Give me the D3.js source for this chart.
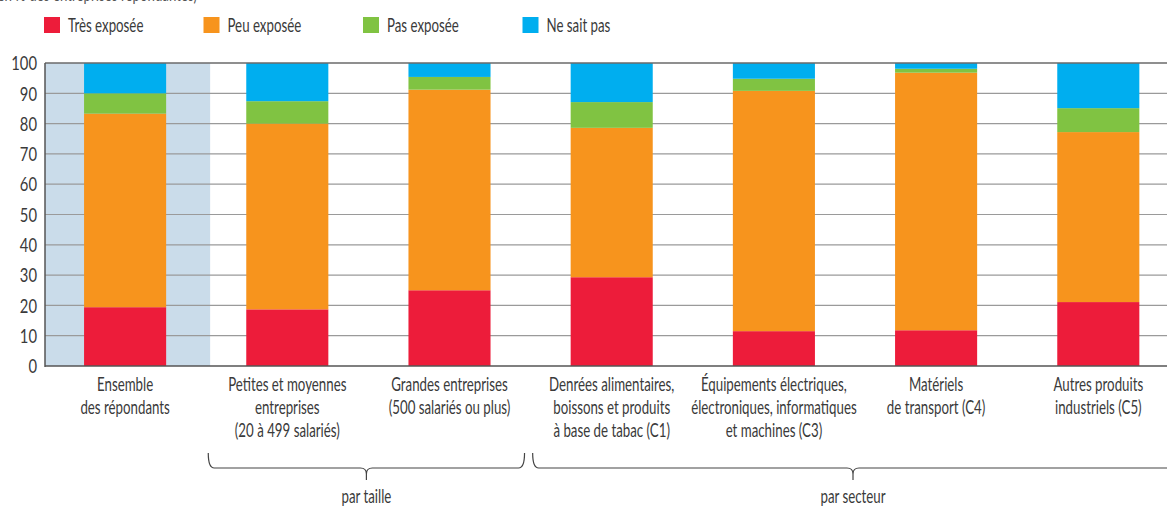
<!DOCTYPE html>
<html>
<head>
<meta charset="utf-8">
<script src="https://cdn.jsdelivr.net/npm/d3@7"></script>
<style>
  body { margin: 0; background: #fff; }
  text { font-family: Lato, "Liberation Sans", sans-serif; fill: #3a3a3a; }
</style>
</head>
<body>
<div id="chart"></div>
<script>
// categories and their wrapped labels
const categories = ['ensemble', 'pme', 'grandes', 'c1', 'c3', 'c4', 'c5'];
const categoryLabels = [
    ['Ensemble', 'des répondants'],
    ['Petites et moyennes', 'entreprises', '(20 à 499 salariés)'],
    ['Grandes entreprises', '(500 salariés ou plus)'],
    ['Denrées alimentaires,', 'boissons et produits', 'à base de tabac (C1)'],
    ['Équipements électriques,', 'électroniques, informatiques', 'et machines (C3)'],
    ['Matériels', 'de transport (C4)'],
    ['Autres produits', 'industriels (C5)']
];

// series (en %)
const seriesNames = ['Très exposée', 'Peu exposée', 'Pas exposée', 'Ne sait pas'];
const seriesColors = ['#ed1c3a', '#f7941d', '#80c342', '#00aeef'];
const tresExposee = [19.4, 18.7, 25.0, 29.3, 11.5, 11.8, 21.1];
const peuExposee  = [63.9, 61.3, 66.2, 49.3, 79.3, 85.0, 56.1];
const pasExposee  = [6.7, 7.4, 4.2, 8.5, 4.0, 1.3, 7.9];
const neSaitPas   = [10.0, 12.6, 4.6, 12.9, 5.2, 1.9, 14.9];

const yTicks = [0, 10, 20, 30, 40, 50, 60, 70, 80, 90, 100];
const groups = [
    { label: 'par taille', first: 1, last: 2 },
    { label: 'par secteur', first: 3, last: 6 }
];
const subtitle = '(en % des entreprises répondantes)';

const svgWidth = 1167;
const svgHeight = 509;
const plotLeft = 45;
const plotTop = 63;
const plotBottom = 366;
const squeeze = 0.70; // condensed look of the original typeface

const table = categories.map((c, i) => ({
    cat: c,
    'Très exposée': tresExposee[i],
    'Peu exposée': peuExposee[i],
    'Pas exposée': pasExposee[i],
    'Ne sait pas': neSaitPas[i]
}));

const svg = d3.select('#chart')
    .append('svg')
    .attr('width', svgWidth)
    .attr('height', svgHeight);

const xScale = d3.scaleBand()
    .domain(categories)
    .range([44, 1179.4])
    .paddingInner(0.494)
    .paddingOuter(0.247);

const yScale = d3.scaleLinear()
    .domain([0, 100])
    .range([plotBottom, plotTop]);

const bw = xScale.bandwidth();

// narrow text: squeeze horizontally around its anchor point
function narrowText(parent, x, y, size, sx) {
    return parent.append('text')
        .attr('transform', `translate(${x},${y}) scale(${sx || squeeze},1)`)
        .style('font-size', size + 'px');
}

// cut off subtitle at the very top
narrowText(svg, 197, 1, 19)
    .attr('text-anchor', 'end')
    .style('fill', '#555')
    .text(subtitle);

// legend
const legend = svg.append('g').attr('transform', 'translate(44,17)');
seriesNames.forEach((name, i) => {
    const g = legend.append('g').attr('transform', `translate(${i * 159.5},0)`);
    g.append('rect')
        .attr('width', 16)
        .attr('height', 16)
        .attr('fill', seriesColors[i]);
    narrowText(g, 24, 8, 19)
        .attr('dy', '0.36em')
        .text(name);
});

// shaded background for "Ensemble"
svg.append('rect')
    .attr('x', plotLeft)
    .attr('y', plotTop)
    .attr('width', xScale(categories[0]) + bw + 44 - plotLeft)
    .attr('height', plotBottom - plotTop)
    .attr('fill', '#cadcea');

// gridlines
svg.append('g')
    .selectAll('line')
    .data(yTicks.filter(t => t > 0 && t < 100))
    .enter().append('line')
    .attr('x1', plotLeft)
    .attr('x2', svgWidth)
    .attr('y1', d => yScale(d))
    .attr('y2', d => yScale(d))
    .attr('stroke', '#9a9a9a')
    .attr('stroke-width', 1.2);

// stacked bars
const stacked = d3.stack().keys(seriesNames)(table);
svg.append('g')
    .selectAll('g')
    .data(stacked)
    .enter().append('g')
    .attr('fill', (d, i) => seriesColors[i])
    .selectAll('rect')
    .data(d => d)
    .enter().append('rect')
    .attr('x', d => xScale(d.data.cat))
    .attr('y', d => yScale(d[1]))
    .attr('width', bw)
    .attr('height', d => yScale(d[0]) - yScale(d[1]));

// top line, baseline and left axis
svg.append('line')
    .attr('x1', plotLeft).attr('x2', svgWidth)
    .attr('y1', yScale(100)).attr('y2', yScale(100))
    .attr('stroke', '#6a6a6a').attr('stroke-width', 1.5);
svg.append('line')
    .attr('x1', plotLeft).attr('x2', svgWidth)
    .attr('y1', yScale(0)).attr('y2', yScale(0))
    .attr('stroke', '#555').attr('stroke-width', 1.5);
svg.append('line')
    .attr('x1', plotLeft).attr('x2', plotLeft)
    .attr('y1', yScale(100)).attr('y2', yScale(0) + 1)
    .attr('stroke', '#555').attr('stroke-width', 1.5);

// y tick labels
yTicks.forEach(t => {
    narrowText(svg, 37, yScale(t), 20, 0.74)
        .attr('dy', '0.36em')
        .attr('text-anchor', 'end')
        .text(t);
});

// category labels
categories.forEach((c, i) => {
    const t = narrowText(svg, xScale(c) + bw / 2, 391, 19)
        .attr('text-anchor', 'middle');
    categoryLabels[i].forEach((line, j) => {
        t.append('tspan')
            .attr('x', 0)
            .attr('y', j * 23)
            .text(line);
    });
});

// group brackets
const bTop = 453, bLine = 468, bTip = 480;
groups.forEach(g => {
    const left = xScale(categories[g.first]) - 38;
    const right = xScale(categories[g.last]) + bw + 34;
    const mid = (left + right) / 2;
    const p = d3.path();
    p.moveTo(left, bTop);
    p.quadraticCurveTo(left, bLine, left + 6, bLine);
    p.lineTo(mid - 6, bLine);
    p.quadraticCurveTo(mid, bLine, mid, bLine + 6);
    p.lineTo(mid, bTip);
    p.moveTo(right, bTop);
    p.quadraticCurveTo(right, bLine, right - 6, bLine);
    p.lineTo(mid + 6, bLine);
    p.quadraticCurveTo(mid, bLine, mid, bLine + 6);
    svg.append('path')
        .attr('d', p.toString())
        .attr('fill', 'none')
        .attr('stroke', '#444')
        .attr('stroke-width', 1.2);
    narrowText(svg, mid, 503, 19)
        .attr('text-anchor', 'middle')
        .text(g.label);
});
</script>
</body>
</html>
